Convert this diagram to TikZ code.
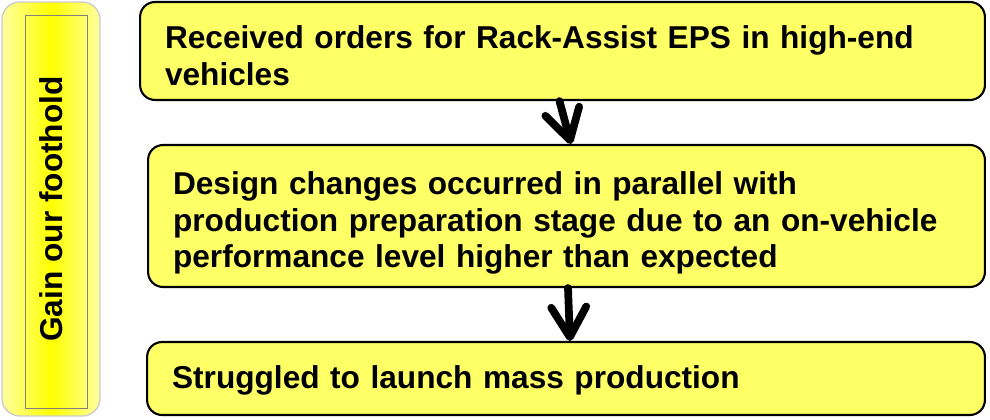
\documentclass[tikz,border=0pt]{standalone}
\usepackage{fontspec}
\setmainfont{Liberation Sans}
\usetikzlibrary{arrows.meta}

\definecolor{boxyellow}{HTML}{FFFF66}
\definecolor{paleyellow}{HTML}{FFFFA0}

\newcommand{\topstrut}[1]{\rule{0pt}{#1}}

\begin{document}
\begin{tikzpicture}[
	x=0.02cm, y=-0.02cm,
	stepbox/.style={draw, line width=1.2pt, rounded corners=0.3cm, fill=boxyellow,
		font=\bfseries\fontsize{18}{21}\selectfont, align=left,
		inner xsep=0.5cm, inner ysep=0pt},
	phasebox/.style={rotate=90, draw=black!20, line width=0.8pt, rounded corners=0.35cm,
		left color=paleyellow, right color=paleyellow, middle color=yellow,
		font=\bfseries\fontsize{18}{21}\selectfont},
	flow/.style={line width=4.4pt, line cap=round,
		-{Straight Barb[round, length=6mm, width=7mm]}},
	]
	\useasboundingbox (0,0) rectangle (990,419);
	
	%% phase panel on the left
	\node[phasebox, minimum width=8.28cm, minimum height=1.96cm] (phase) at (51,209) {Gain our foothold};
	\draw[black!50, line width=0.5pt] (25,15) rectangle (87,408);
	
	%% steps
	\node[stepbox, minimum height=1.96cm, text width=15.9cm] (recv) at (562.5,51)
		{\topstrut{18.6pt}Received orders for Rack-Assist EPS in high-end\\vehicles};
	\node[stepbox, minimum height=2.84cm, text width=15.74cm] (design) at (566.5,216)
		{\topstrut{21pt}Design changes occurred in parallel with\\production preparation stage due to an on-vehicle\\performance level higher than expected};
	\node[stepbox, minimum height=1.46cm, text width=15.76cm] (launch) at (566,378.5)
		{\topstrut{15pt}Struggled to launch mass production};
	
	\draw[flow] ([xshift=-0.06cm]recv.south) -- ([xshift=0.09cm]design.north);
	\draw[flow] ([xshift=0.03cm]design.south) -- ([xshift=0.08cm]launch.north);
	
\end{tikzpicture}
\end{document}
